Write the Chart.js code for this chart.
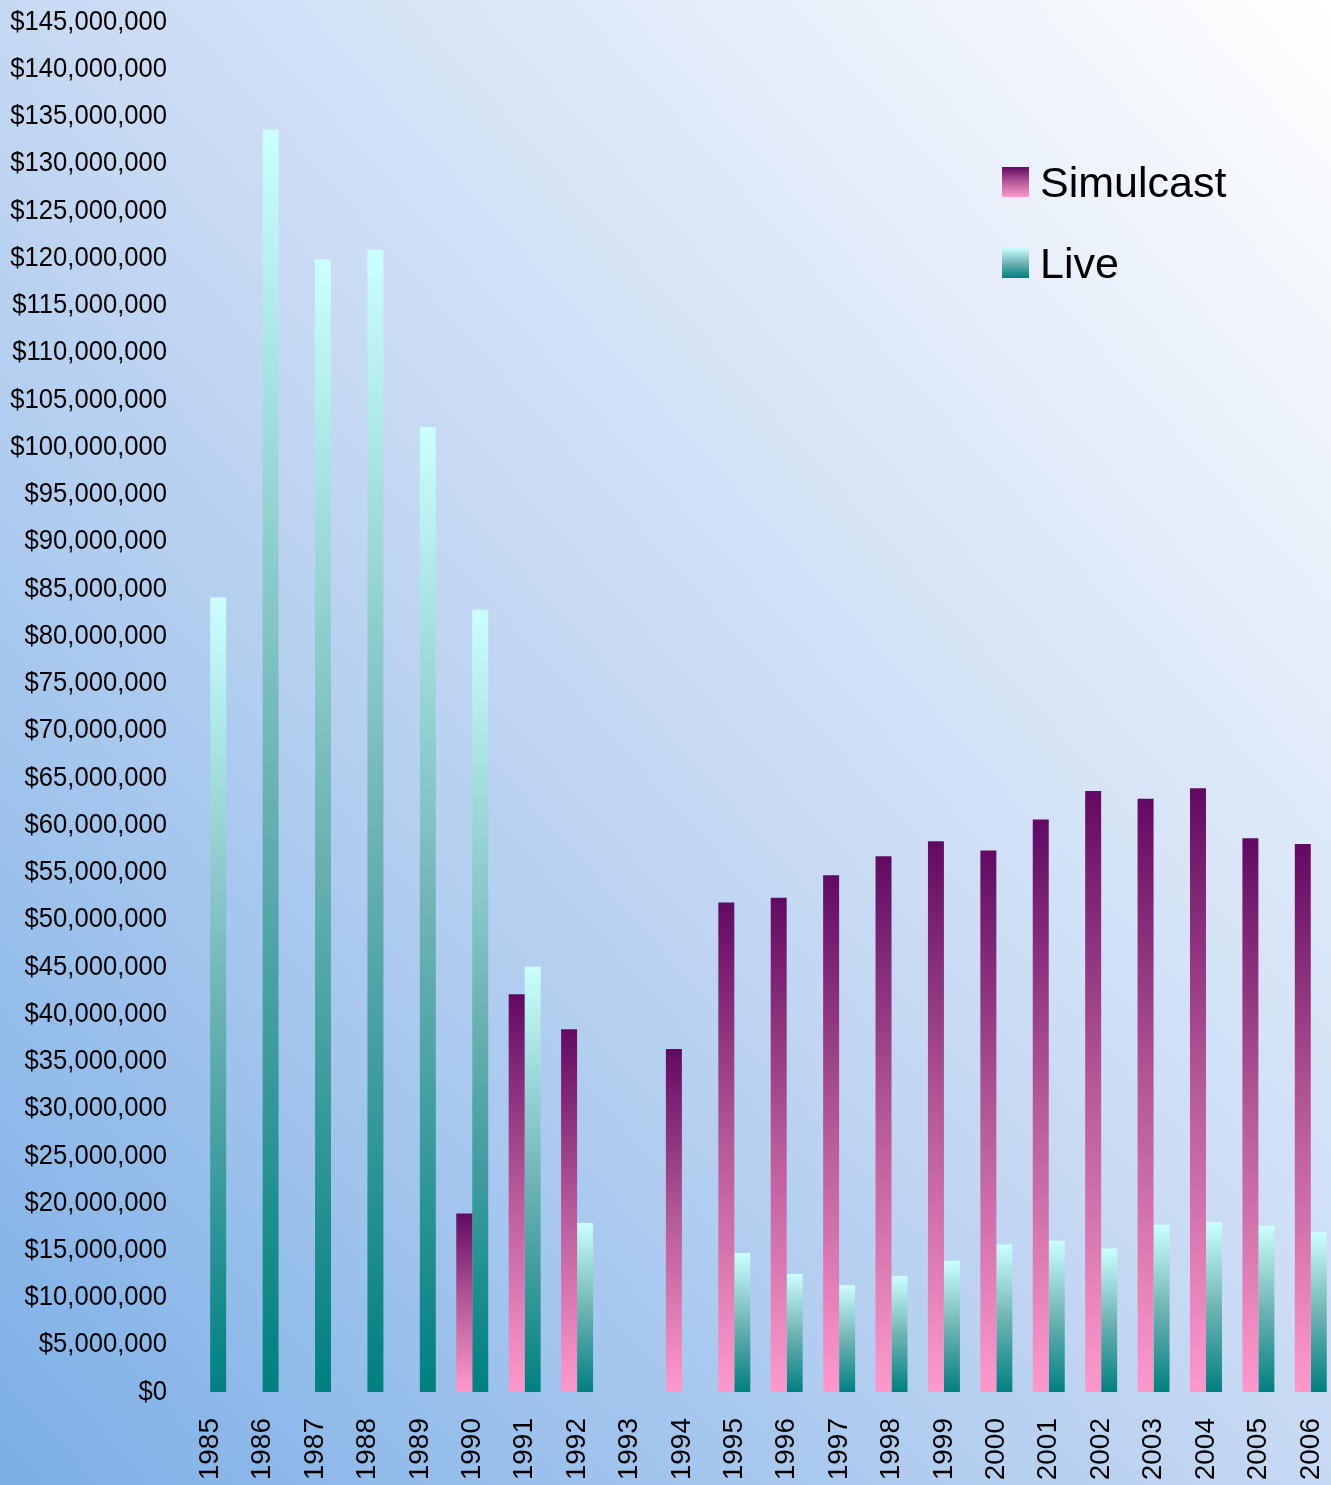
<!DOCTYPE html>
<html>
<head>
<meta charset="utf-8">
<title>Simulcast vs Live</title>
<script src="https://cdn.jsdelivr.net/npm/chart.js@4.4.1/dist/chart.umd.min.js"></script>
<style>
    html, body { margin: 0; padding: 0; overflow: hidden; }
    body {
        width: 1331px;
        height: 1485px;
        background: linear-gradient(to top right, #7cafe6 0%, #c6d9f3 50%, #ffffff 100%);
    }
    .chart-wrap { position: absolute; left: 0; top: 0; width: 1337px; height: 1485px; }
</style>
</head>
<body>
<div class="chart-wrap"><canvas id="wagerChart"></canvas></div>
<script>
        // --- DATA ---
        const years = ['1985', '1986', '1987', '1988', '1989', '1990', '1991', '1992', '1993', '1994', '1995',
                       '1996', '1997', '1998', '1999', '2000', '2001', '2002', '2003', '2004', '2005', '2006'];
        const seriesNames = ['Simulcast', 'Live'];
        const simulcastValues = [0, 0, 0, 0, 0, 18900000, 42100000, 38400000, 0, 36300000, 51800000,
                                 52300000, 54700000, 56700000, 58300000, 57300000, 60600000, 63600000, 62800000, 63900000, 58600000, 58000000];
        const liveValues = [84100000, 133600000, 119900000, 120900000, 102100000, 82800000, 45000000, 17900000, 0, 0, 14700000,
                            12500000, 11300000, 12300000, 13900000, 15600000, 16000000, 15200000, 17700000, 18000000, 17600000, 16900000];
        const yMin = 0;
        const yMax = 145000000;
        const yStep = 5000000;

        // gradient stops (top -> bottom of each bar)
        const simulcastStops = ['#620a62', '#b65a98', '#ff99cc'];
        const liveStops = ['#ccffff', '#70b4b4', '#008080'];

        // y labels in the original are squeezed sideways (narrow face), no narrow font here so squeeze the canvas
        const LABEL_SQUEEZE = 0.915;
        class NarrowLinearScale extends Chart.LinearScale {
            _computeLabelArea() { return undefined; } // no clip, the squeeze would cut the left side
            drawLabels(chartArea) {
                const c = this.ctx;
                const anchor = this.right - this.options.ticks.padding;
                c.save();
                c.translate(anchor, 0);
                c.scale(LABEL_SQUEEZE, 1);
                c.translate(-anchor, 0);
                super.drawLabels(chartArea);
                c.restore();
            }
        }
        NarrowLinearScale.id = 'narrowLinear';
        NarrowLinearScale.defaults = Chart.LinearScale.defaults;
        Chart.register(NarrowLinearScale);

        // gradient per bar, from the bar top down to the zero line
        function barGradient(context, stops) {
            const chart = context.chart;
            if (!chart.chartArea) return stops[stops.length - 1];
            const yScale = chart.scales.y;
            const yTop = yScale.getPixelForValue(context.raw || 0);
            const yBase = yScale.getPixelForValue(0);
            if (Math.abs(yBase - yTop) < 1) return stops[stops.length - 1];
            const g = chart.ctx.createLinearGradient(0, yTop, 0, yBase);
            g.addColorStop(0, stops[0]);
            g.addColorStop(0.5, stops[1]);
            g.addColorStop(1, stops[2]);
            return g;
        }

        // legend at top right, drawn by hand
        const legendPlugin = {
            id: 'cornerLegend',
            afterDraw(chart) {
                const ctx = chart.ctx;
                const items = [
                    { label: seriesNames[0], stops: simulcastStops, y: 167 },
                    { label: seriesNames[1], stops: liveStops, y: 248 }
                ];
                ctx.save();
                items.forEach(item => {
                    const g = ctx.createLinearGradient(0, item.y, 0, item.y + 30);
                    g.addColorStop(0, item.stops[0]);
                    g.addColorStop(0.5, item.stops[1]);
                    g.addColorStop(1, item.stops[2]);
                    ctx.fillStyle = g;
                    ctx.fillRect(1002, item.y, 27, 30);
                    ctx.fillStyle = '#000000';
                    ctx.font = "43px 'Liberation Sans', Arial, sans-serif";
                    ctx.textAlign = 'left';
                    ctx.textBaseline = 'alphabetic';
                    ctx.fillText(item.label, 1040, item.y + 30);
                });
                ctx.restore();
            }
        };

        const ctx = document.getElementById('wagerChart').getContext('2d');
        const wagerChart = new Chart(ctx, {
            type: 'bar',
            data: {
                labels: years,
                datasets: [
                    {
                        label: seriesNames[0],
                        data: simulcastValues,
                        backgroundColor: c => barGradient(c, simulcastStops),
                        borderWidth: 0
                    },
                    {
                        label: seriesNames[1],
                        data: liveValues,
                        backgroundColor: c => barGradient(c, liveStops),
                        borderWidth: 0
                    }
                ]
            },
            options: {
                responsive: true,
                maintainAspectRatio: false,
                animation: false,
                layout: { padding: { top: 22, right: 0, bottom: 0, left: 0 } },
                datasets: {
                    bar: { categoryPercentage: 0.61, barPercentage: 1.0 }
                },
                plugins: {
                    legend: { display: false },
                    tooltip: { enabled: false }
                },
                scales: {
                    x: {
                        grid: { display: false, drawTicks: false },
                        border: { display: false },
                        ticks: {
                            color: '#000000',
                            minRotation: 90,
                            maxRotation: 90,
                            padding: 26,
                            autoSkip: false,
                            font: { size: 28, family: "'Liberation Sans', Arial, sans-serif" }
                        },
                        afterFit: scale => {
                            scale.height = 93;
                            scale.paddingLeft = 0;
                            scale.paddingRight = 0;
                        }
                    },
                    y: {
                        type: 'narrowLinear',
                        min: yMin,
                        max: yMax,
                        grid: { display: false, drawTicks: false },
                        border: { display: false },
                        ticks: {
                            stepSize: yStep,
                            color: '#000000',
                            padding: 17,
                            font: { size: 28, family: "'Liberation Sans', Arial, sans-serif" },
                            callback: v => '$' + Number(v).toLocaleString('en-US')
                        },
                        afterFit: scale => {
                            scale.width = 184;
                            scale.paddingTop = 0;
                            scale.paddingBottom = 0;
                        }
                    }
                }
            },
            plugins: [legendPlugin]
        });
</script>
</body>
</html>
